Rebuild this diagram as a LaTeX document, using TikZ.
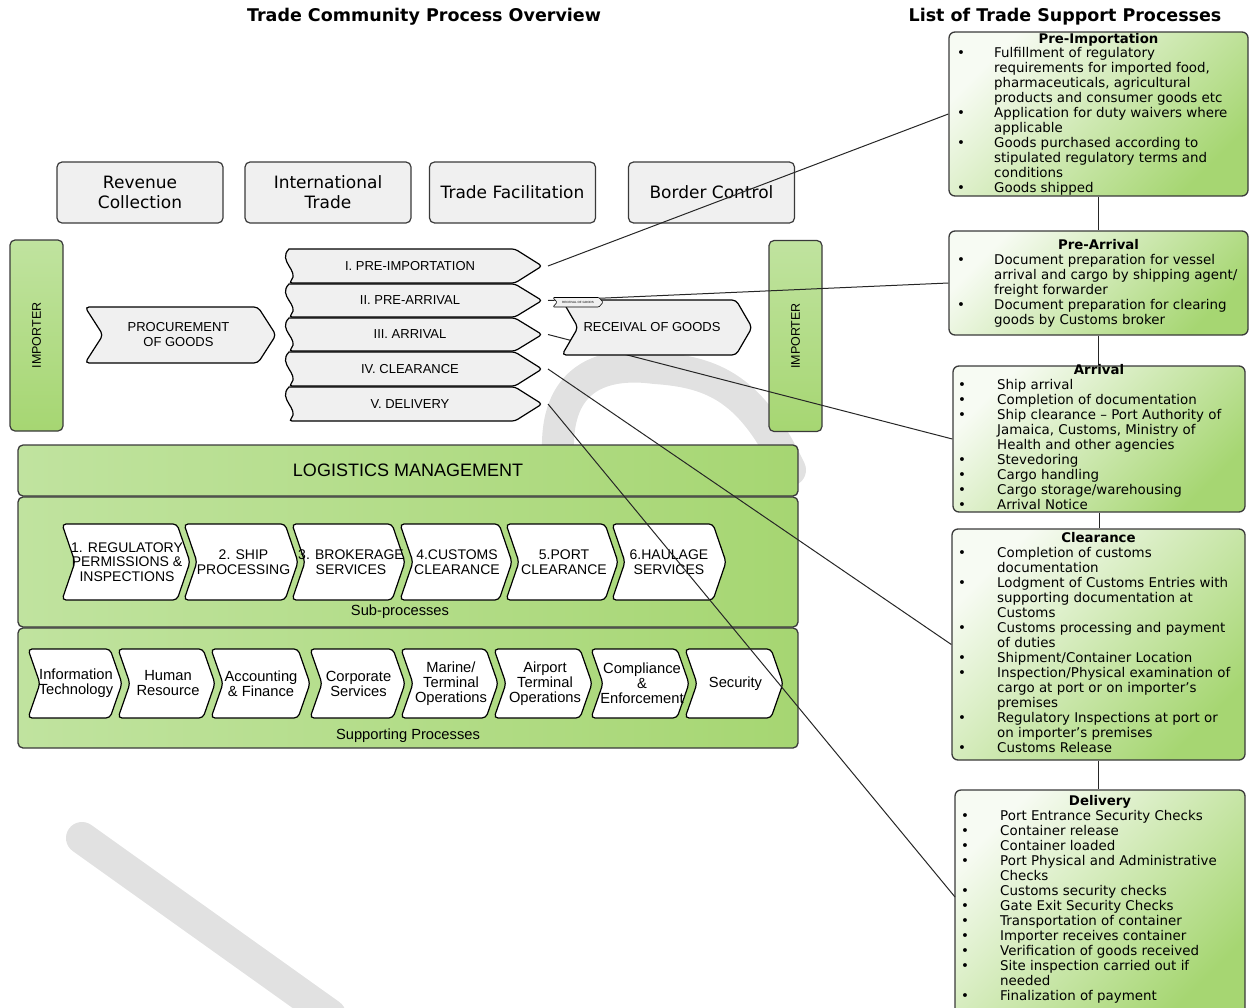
\documentclass[tikz,border=0pt]{standalone}
\usepackage{fontspec}
\setmainfont{DejaVu Sans}
\newfontfamily\arialf{Liberation Sans}
\usetikzlibrary{calc}
\definecolor{edgec}{HTML}{3A3A3A}
\definecolor{boxgrey}{HTML}{F0F0F0}
\definecolor{gLight}{HTML}{C0E39F}
\definecolor{gDark}{HTML}{A6D672}
\definecolor{gWhite}{HTML}{F7FBF3}
\definecolor{wmark}{HTML}{E1E1E1}
\newcommand\myfs[2]{\fontsize{#1}{#2}\selectfont}
\tikzset{
  titlest/.style={font=\bfseries\myfs{17.5}{20}, inner sep=0pt, anchor=base},
  catbox/.style={draw=edgec, line width=1.2pt, rounded corners=5pt, fill=boxgrey,
    minimum width=166pt, minimum height=61pt, align=center, inner sep=0pt, font=\myfs{17}{20}},
  impbox/.style={draw=edgec, line width=1.2pt, rounded corners=5pt, top color=gLight, bottom color=gDark,
    minimum width=191pt, minimum height=53pt, inner sep=0pt, font=\arialf\myfs{12.5}{14}, rotate=90},
  gbar/.style={draw=edgec, line width=1.3pt, rounded corners=5pt, left color=gLight, right color=gDark, inner sep=0pt},
  lbl/.style={font=\arialf\myfs{14.7}{16}, inner sep=0pt},
  chevw/.style={draw=black, fill=white, line width=1.2pt, rounded corners=4pt},
  chevg/.style={draw=black, fill=boxgrey, line width=1.2pt, rounded corners=4pt},
  chevtext/.style={align=center, inner sep=0pt, font=\arialf\myfs{14.5}{14.5}},
  procst/.style={draw=black, fill=boxgrey, line width=1.2pt},
  conn/.style={draw=black!85, line width=1pt},
  wmst/.style={draw=wmark, line width=32pt, line cap=round},
  rbox/.style={draw=edgec, line width=1.3pt, rounded corners=6pt, top color=gWhite, bottom color=gDark, middle color=gDark!55!white, shading angle=45, inner sep=0pt},
  rhead/.style={font=\bfseries\myfs{13.3}{15}, inner sep=0pt, anchor=base},
  rlist/.style={font=\myfs{13.4}{15}, inner sep=0pt, anchor=base west},
}
% name, left, tip, y0, y1, depth, style, text x-offset, text
\newcommand\chev[9]{%
  \draw[#7] (#2,#4) -- ({#3-#6},#4) -- (#3,{(#4+#5)/2}) -- ({#3-#6},#5) -- (#2,#5) -- ({#2+#6},{(#4+#5)/2}) -- cycle;
  \node[chevtext] (#1) at ({(#2+#3)/2+(#8)},{(#4+#5)/2}) {#9};}
% name, y0, y1, text
\newcommand\procshape[4]{%
  \draw[procst] [rounded corners=3pt] (289,#2) -- (515,#2) -- (542,{(#2+#3)/2}) -- (515,#3) -- (289,#3) [sharp corners]
    .. controls (300,{#3-12}) and (277,{#2+12}) .. (289,#2) -- cycle;
  \node[font=\arialf\myfs{13}{15}, inner sep=0pt] (#1) at (410,{(#2+#3)/2}) {#4};
  \coordinate (#1tip) at (548,{(#2+#3)/2});}
\newcommand\bl{\textbullet}
\begin{document}
\begin{tikzpicture}[x=1pt,y=-1pt]
\useasboundingbox (0,0) rectangle (1250,1007);

% faint watermark strokes (background)
\draw[wmst] (82,838) -- (330,1015);
\draw[wmst] (558,450) .. controls (556,372) and (610,362) .. (655,368) .. controls (715,372) and (752,390) .. (790,470);

% titles
\node[titlest] (t1) at (424,21) {Trade Community Process Overview};
\node[titlest] (t2) at (1065,21) {List of Trade Support Processes};

% category boxes
\node[catbox] (rev) at (140,192.5) {Revenue\\Collection};
\node[catbox] (intl) at (328,192.5) {International\\Trade};
\node[catbox] (tfac) at (512.5,192.5) {Trade Facilitation};
\node[catbox] (bctl) at (711.5,192.5) {Border Control};

% importers
\node[impbox] (impL) at (36.5,335.5) {IMPORTER};
\node[impbox] (impR) at (795.5,336) {IMPORTER};

% procurement
\tikzset{chevtext/.style={align=center, inner sep=0pt, font=\arialf\myfs{13}{15}}}
\chev{proc}{85}{276}{307}{363}{18}{chevg}{-2}{PROCUREMENT\\OF GOODS}

% process stack
\procshape{pI}{249}{283}{I. PRE-IMPORTATION}
\procshape{pII}{284}{317}{II. PRE-ARRIVAL}
\procshape{pIII}{318}{351}{III. ARRIVAL}
\procshape{pIV}{352}{386}{IV. CLEARANCE}
\procshape{pV}{387}{421}{V. DELIVERY}

% green containers
\node[gbar, minimum width=780pt, minimum height=51pt, font=\arialf\myfs{18}{20}] (logi) at (408,470.5) {LOGISTICS MANAGEMENT};
\node[gbar, minimum width=780pt, minimum height=130pt] (subbox) at (408,562) {};
\node[lbl] (sublbl) at (400,612) {Sub-processes};
\node[gbar, minimum width=780pt, minimum height=120pt] (supbox) at (408,688) {};
\node[lbl] (suplbl) at (408,736) {Supporting Processes};

% sub-processes
\tikzset{chevtext/.style={align=center, inner sep=0pt, font=\arialf\myfs{14}{14.5}}}
\chev{s1}{62}{190}{524}{600}{13}{chevw}{1}{1. REGULATORY\\PERMISSIONS \&\\INSPECTIONS}
\chev{s2}{184}{298}{524}{600}{13}{chevw}{2.5}{2. SHIP\\PROCESSING}
\chev{s3}{292}{405}{524}{600}{13}{chevw}{2.5}{3. BROKERAGE\\SERVICES}
\chev{s4}{400}{512}{524}{600}{13}{chevw}{1}{4.CUSTOMS\\CLEARANCE}
\chev{s5}{506}{618}{524}{600}{13}{chevw}{2}{5.PORT\\CLEARANCE}
\chev{s6}{612}{726}{524}{600}{13}{chevw}{0}{6.HAULAGE\\SERVICES}

% supporting processes
\tikzset{chevtext/.style={align=center, inner sep=0pt, font=\arialf\myfs{14.7}{15}}}
\chev{u1}{28}{122}{649}{718}{12}{chevw}{1}{Information\\Technology}
\chev{u2}{118}{215}{649}{718}{12}{chevw}{1.5}{Human\\Resource}
\chev{u3}{211}{310}{649}{718}{12}{chevw}{0.5}{Accounting\\\& Finance}
\chev{u4}{310}{405}{649}{718}{12}{chevw}{1}{Corporate\\Services}
\chev{u5}{401}{498}{649}{718}{12}{chevw}{1.5}{Marine/\\Terminal\\Operations}
\chev{u6}{494}{592}{649}{718}{12}{chevw}{2}{Airport\\Terminal\\Operations}
\chev{u7}{591}{689}{649}{718}{12}{chevw}{2}{Compliance\\\&\\Enforcement}
\chev{u8}{685}{783}{649}{718}{12}{chevw}{1.5}{Security}

% right boxes
\node[rbox, minimum width=299pt, minimum height=164pt] (bPre) at (1098.5,114) {};
\node[rbox, minimum width=299pt, minimum height=104pt] (bPA) at (1098.5,283) {};
\node[rbox, minimum width=292pt, minimum height=146pt] (bArr) at (1099,439) {};
\node[rbox, minimum width=293pt, minimum height=231pt] (bClr) at (1098.5,644.5) {};
\node[rbox, minimum width=290pt, minimum height=225pt] (bDel) at (1100,902.5) {};
\coordinate (delIn) at (955,897);

\draw[conn] (bPre.south) -- (bPA.north);
\draw[conn] (bPA.south) -- (bPA.south |- bArr.north);
\draw[conn] (bArr.south) -- (bArr.south |- bClr.north);
\draw[conn] (bClr.south) -- (bClr.south |- bDel.north);

\node[rhead] (hPre) at (1098.5,43.5) {Pre-Importation};
\node[rlist] (lPre) at (957,57.5) {\begin{tabular}[t]{@{}p{37pt}@{}l@{}}
\bl & Fulfillment of regulatory\\
 & requirements for imported food,\\
 & pharmaceuticals, agricultural\\
 & products and consumer goods etc\\
\bl & Application for duty waivers where\\
 & applicable\\
\bl & Goods purchased according to\\
 & stipulated regulatory terms and\\
 & conditions\\
\bl & Goods shipped
\end{tabular}};

\node[rhead] (hPA) at (1098.5,249.5) {Pre-Arrival};
\node[rlist] (lPA) at (957,264.5) {\begin{tabular}[t]{@{}p{37pt}@{}l@{}}
\bl & Document preparation for vessel\\
 & arrival and cargo by shipping agent/\\
 & freight forwarder\\
\bl & Document preparation for clearing\\
 & goods by Customs broker
\end{tabular}};

\node[rhead] (hArr) at (1099,374.5) {Arrival};
\node[rlist] (lArr) at (958,389.5) {\begin{tabular}[t]{@{}p{39pt}@{}l@{}}
\bl & Ship arrival\\
\bl & Completion of documentation\\
\bl & Ship clearance -- Port Authority of\\
 & Jamaica, Customs, Ministry of\\
 & Health and other agencies\\
\bl & Stevedoring\\
\bl & Cargo handling\\
\bl & Cargo storage/warehousing\\
\bl & Arrival Notice
\end{tabular}};

\node[rhead] (hClr) at (1098.5,542.5) {Clearance};
\node[rlist] (lClr) at (958,557.5) {\begin{tabular}[t]{@{}p{39pt}@{}l@{}}
\bl & Completion of customs\\
 & documentation\\
\bl & Lodgment of Customs Entries with\\
 & supporting documentation at\\
 & Customs\\
\bl & Customs processing and payment\\
 & of duties\\
\bl & Shipment/Container Location\\
\bl & Inspection/Physical examination of\\
 & cargo at port or on importer’s\\
 & premises\\
\bl & Regulatory Inspections at port or\\
 & on importer’s premises\\
\bl & Customs Release
\end{tabular}};

\node[rhead] (hDel) at (1100,805.5) {Delivery};
\node[rlist] (lDel) at (961,820.5) {\begin{tabular}[t]{@{}p{39pt}@{}l@{}}
\bl & Port Entrance Security Checks\\
\bl & Container release\\
\bl & Container loaded\\
\bl & Port Physical and Administrative\\
 & Checks\\
\bl & Customs security checks\\
\bl & Gate Exit Security Checks\\
\bl & Transportation of container\\
\bl & Importer receives container\\
\bl & Verification of goods received\\
\bl & Site inspection carried out if\\
 & needed\\
\bl & Finalization of payment
\end{tabular}};

% connectors
\draw[conn] (pItip) -- (bPre.west);
\draw[conn] (pIItip) -- (bPA.west);
\draw[conn] (pIIItip) -- (bArr.west);
\draw[conn] (pIVtip) -- (bClr.west);
\draw[conn] (pVtip) -- (delIn);

% receival of goods
\tikzset{chevtext/.style={align=center, inner sep=0pt, font=\arialf\myfs{13}{15}}}
\chev{recv}{562}{752}{300}{355}{16}{chevg}{-5}{RECEIVAL OF GOODS}
\tikzset{chevtext/.style={align=center, inner sep=0pt, font=\arialf\myfs{3}{3}}}
\chev{recvs}{553}{603}{297.5}{307}{4}{chevg, line width=0.6pt, rounded corners=1pt}{0}{RECEIVAL OF GOODS}
\end{tikzpicture}
\end{document}
